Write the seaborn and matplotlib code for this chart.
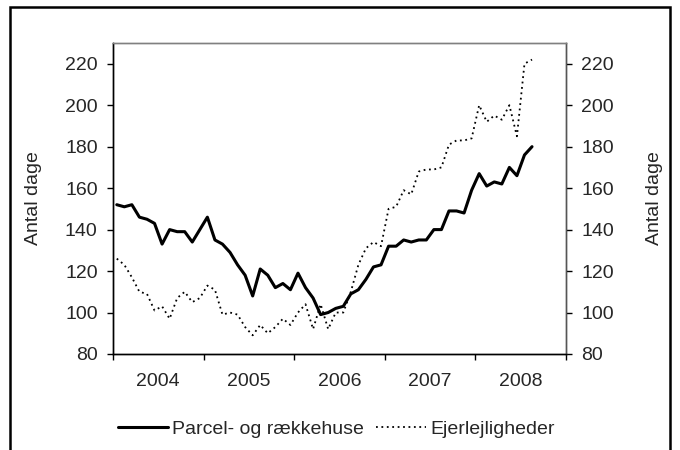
import numpy as np
import pandas as pd
import matplotlib
matplotlib.use("Agg")
import matplotlib.pyplot as plt
import seaborn as sns
from matplotlib.lines import Line2D
from matplotlib.patches import Rectangle

# ---- data (monthly, Jan 2004 - Aug 2008) ----
years = ["2004", "2005", "2006", "2007", "2008"]
parcel = [152, 151, 152, 146, 145, 143, 133, 140, 139, 139,
          134, 140, 146, 135, 133, 129, 123, 118, 108, 121,
          118, 112, 114, 111, 119, 112, 107, 99, 100, 102,
          103, 109, 111, 116, 122, 123, 132, 132, 135, 134,
          135, 135, 140, 140, 149, 149, 148, 159, 167, 161,
          163, 162, 170, 166, 176, 180]
ejer = [126, 123, 117, 110, 109, 101, 103, 97, 107, 110,
        105, 107, 113, 111, 99, 100, 99, 93, 89, 94,
        90, 93, 97, 94, 100, 104, 92, 104, 92, 100,
        100, 110, 123, 131, 134, 132, 150, 151, 159, 157,
        168, 169, 169, 170, 181, 183, 183, 184, 200, 192,
        195, 193, 200, 185, 220, 222]
y_ticks = [80, 100, 120, 140, 160, 180, 200, 220]
series_names = ["Parcel- og rækkehuse", "Ejerlejligheder"]
y_label = "Antal dage"

df = pd.DataFrame({"month": np.arange(len(parcel)), "parcel": parcel, "ejer": ejer})

sns.set_theme(style="white")
plt.rcParams['font.family'] = ['Liberation Sans', 'DejaVu Sans']
FS = 14
DOT = (0, (1, 2))

W, H = 680, 450
fig = plt.figure(figsize=(W / 100, H / 100), dpi=100)
fig.patch.set_facecolor("white")
ax = fig.add_axes([113 / W, 1 - 354 / H, (566 - 113) / W, (354 - 43) / H])

sns.lineplot(data=df, x="month", y="parcel", ax=ax, color="black", lw=2.2,
             legend=False)
ax2 = ax.twinx()
sns.lineplot(data=df, x="month", y="ejer", ax=ax2, color="black", lw=1.3,
             legend=False)
for ln in ax2.lines:
    ln.set_linestyle(DOT)
    ln.set_dash_capstyle("butt")

n_months = 12 * len(years)
for a in (ax, ax2):
    a.set_xlim(-0.5, n_months - 0.5)
    a.set_ylim(80, 230)
    a.set_yticks(y_ticks)
    a.set_facecolor("none")

ax.set_xticks([-0.5 + 12 * i for i in range(len(years) + 1)])
ax.set_xticklabels([])
ax.set_xticks([5.5 + 12 * i for i in range(len(years))], minor=True)
ax.set_xticklabels(years, minor=True)
ax.tick_params(axis="x", which="major", direction="out", length=4, width=1,
               color="black", bottom=True)
ax.tick_params(axis="x", which="minor", length=0, pad=14, labelsize=FS)
ax.set_xlabel("")

ax.tick_params(axis="y", direction="out", length=4, width=1, color="black",
               left=True, pad=7, labelsize=FS)
ax2.tick_params(axis="y", direction="out", length=4, width=1, color="black",
                right=True, pad=7, labelsize=FS)

ax.set_ylabel(y_label, fontsize=FS)
ax.yaxis.set_label_coords((42 - 113) / 453, 0.5)
ax2.set_ylabel(y_label, fontsize=FS, rotation=90)
ax2.yaxis.set_label_coords((646 - 113) / 453, 0.5)

for a in (ax, ax2):
    a.spines["top"].set_color("#808080")
    a.spines["left"].set_color("black")
    a.spines["bottom"].set_color("black")
    a.spines["right"].set_color("#555555")
    for s in a.spines.values():
        s.set_linewidth(1)

handles = [Line2D([], [], color="black", lw=2.2),
           Line2D([], [], color="black", lw=1.3, linestyle=DOT)]
fig.legend(handles, series_names, loc="center", ncol=2,
           bbox_to_anchor=(336 / W, 1 - 429 / H), frameon=False,
           fontsize=FS, handlelength=2.6, handletextpad=0.2,
           columnspacing=0.6)

fig.patches.append(Rectangle((10 / W, -0.1), 660 / W, 1.1 - 7 / H,
                             transform=fig.transFigure, fill=False,
                             edgecolor="black", lw=1.8, clip_on=False))

fig.savefig("out.png", dpi=100)
